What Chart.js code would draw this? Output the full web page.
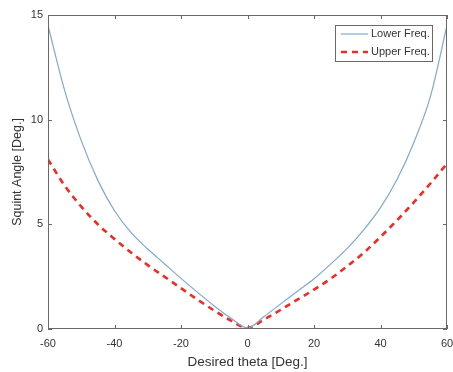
<!DOCTYPE html>
<html>
<head>
<meta charset="utf-8">
<script src="https://cdn.jsdelivr.net/npm/chart.js@4"></script>
<style>
  html, body { margin: 0; padding: 0; background: #fff; }
  #wrap { width: 453px; height: 372px; position: relative; }
</style>
</head>
<body>
<div id="wrap"><canvas id="squint"></canvas></div>
<script>
'use strict';

// Winkel-Stuetzstellen (Desired theta, Grad)
const thetaValues = [
  -60, -55, -50, -45, -40, -35, -30, -25, -20, -15, -10, -5, 0,
  5, 10, 15, 20, 25, 30, 35, 40, 45, 50, 55, 60,
];

// Squint-Winkel
const lowerFreq = [
  14.5, 11.4, 9.0, 7.1, 5.65, 4.6, 3.82, 3.12, 2.42, 1.75, 1.1, 0.52, 0.05,
  0.6, 1.2, 1.8, 2.4, 3.1, 3.85, 4.75, 5.8, 7.15, 8.9, 11.1, 14.5,
];
const upperFreq = [
  8.1, 6.85, 5.85, 5.0, 4.3, 3.65, 3.05, 2.5, 1.95, 1.4, 0.88, 0.4, 0.05,
  0.45, 0.92, 1.4, 1.88, 2.4, 3.0, 3.65, 4.4, 5.2, 6.05, 6.95, 7.9,
];

const xTicks = [-60, -40, -20, 0, 20, 40, 60];
const yTicks = [0, 5, 10, 15];
const seriesLabels = ['Lower Freq.', 'Upper Freq.'];

const frameColor = '#6f6666';
const textColor = '#333';
const fontFamily = 'Arial, "Liberation Sans", sans-serif';

const toPoints = values => values.map((v, i) => ({ x: thetaValues[i], y: v }));

// MATLAB-artiger Rahmen mit nach innen zeigenden Ticks + Legende im Plot
const frameAndLegend = {
  id: 'frameAndLegend',
  afterDatasetsDraw(chart) {
    const { ctx, chartArea: a, scales } = chart;
    ctx.save();
    ctx.strokeStyle = frameColor;
    ctx.lineWidth = 1;
    ctx.strokeRect(a.left + 0.5, a.top + 0.5, a.width - 1, a.height - 1);

    const len = 4;
    ctx.beginPath();
    xTicks.forEach(t => {
      const px = Math.round(scales.x.getPixelForValue(t)) + 0.5;
      ctx.moveTo(px, a.bottom); ctx.lineTo(px, a.bottom - len);
      ctx.moveTo(px, a.top); ctx.lineTo(px, a.top + len);
    });
    yTicks.forEach(t => {
      const py = Math.round(scales.y.getPixelForValue(t)) + 0.5;
      ctx.moveTo(a.left, py); ctx.lineTo(a.left + len, py);
      ctx.moveTo(a.right, py); ctx.lineTo(a.right - len, py);
    });
    ctx.stroke();

    // Legende oben rechts
    const boxW = 97, boxH = 36;
    const bx = a.right - 15 - boxW, by = a.top + 10;
    ctx.fillStyle = '#fff';
    ctx.fillRect(bx, by, boxW, boxH);
    ctx.strokeStyle = frameColor;
    ctx.strokeRect(bx + 0.5, by + 0.5, boxW, boxH);
    ctx.font = '11px ' + fontFamily;
    ctx.textBaseline = 'middle';
    chart.data.datasets.forEach((ds, i) => {
      const ly = by + 9 + i * 18;
      ctx.beginPath();
      ctx.strokeStyle = ds.borderColor;
      ctx.lineWidth = ds.borderWidth;
      ctx.setLineDash(ds.borderDash || []);
      ctx.moveTo(bx + 6, ly);
      ctx.lineTo(bx + 33, ly);
      ctx.stroke();
      ctx.setLineDash([]);
      ctx.fillStyle = textColor;
      ctx.fillText(ds.label, bx + 36, ly);
    });
    ctx.restore();
  },
};

new Chart(document.getElementById('squint'), {
  type: 'line',
  data: {
    datasets: [
      {
        label: seriesLabels[0],
        data: toPoints(lowerFreq),
        borderColor: '#7fa8d2',
        borderWidth: 1.2,
        pointRadius: 0,
        cubicInterpolationMode: 'monotone',
      },
      {
        label: seriesLabels[1],
        data: toPoints(upperFreq),
        borderColor: '#f02a24',
        borderWidth: 2.6,
        borderDash: [6, 5],
        pointRadius: 0,
        cubicInterpolationMode: 'monotone',
      },
    ],
  },
  options: {
    responsive: true,
    maintainAspectRatio: false,
    animation: false,
    layout: { padding: { top: 15, right: 0, left: 0, bottom: 0 } },
    plugins: {
      legend: { display: false },
      tooltip: { enabled: false },
    },
    scales: {
      x: {
        type: 'linear',
        min: -60,
        max: 60,
        afterBuildTicks: scale => { scale.ticks = xTicks.map(v => ({ value: v })); },
        afterFit: scale => {
          scale.height = 43;
          scale.paddingLeft = 0;
          scale.paddingRight = 6;
        },
        grid: { display: false, drawTicks: false },
        border: { display: false },
        ticks: { color: textColor, font: { size: 11, family: fontFamily }, padding: 8, maxRotation: 0 },
        title: {
          display: true,
          text: 'Desired theta [Deg.]',
          color: textColor,
          font: { size: 13.5, family: fontFamily },
          padding: { top: 0, bottom: 2 },
        },
      },
      y: {
        min: 0,
        max: 15,
        afterBuildTicks: scale => { scale.ticks = yTicks.map(v => ({ value: v })); },
        afterFit: scale => {
          scale.width = 48;
          scale.paddingTop = 0;
          scale.paddingBottom = 0;
        },
        grid: { display: false, drawTicks: false },
        border: { display: false },
        ticks: { color: textColor, font: { size: 11, family: fontFamily }, padding: 5 },
        title: {
          display: true,
          text: 'Squint Angle [Deg.]',
          color: textColor,
          font: { size: 12.5, family: fontFamily },
          padding: { top: 10, bottom: 0 },
        },
      },
    },
  },
  plugins: [frameAndLegend],
});
</script>
</body>
</html>
